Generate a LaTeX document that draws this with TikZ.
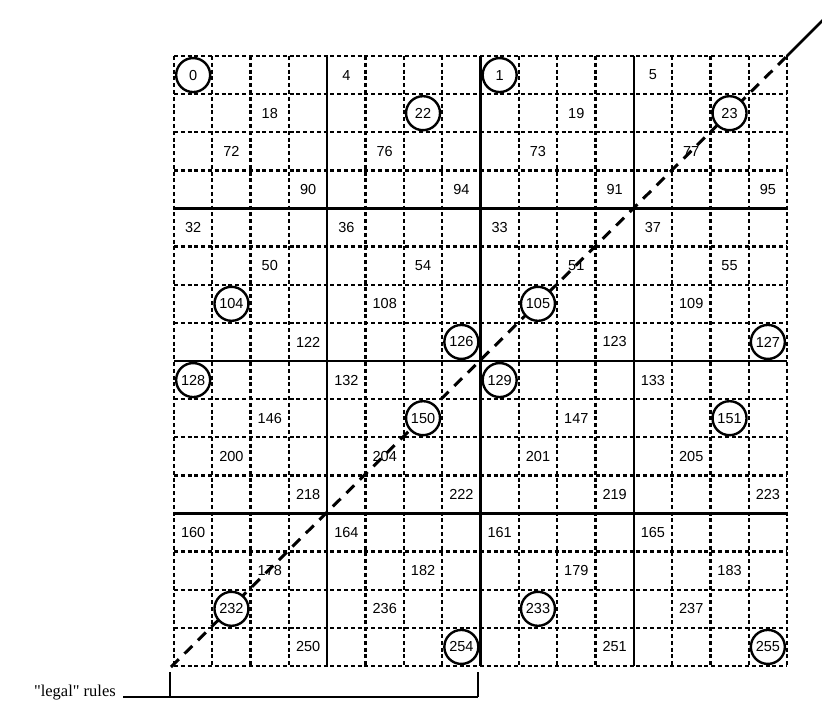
\documentclass[tikz,border=0pt]{standalone}
\usepackage{fontspec}
\setmainfont{Liberation Serif}
\newfontfamily\numfont{Liberation Sans}
\newfontfamily\legalfont{Liberation Serif}[Ligatures=ResetAll]
\begin{document}
\begin{tikzpicture}[x=1pt,y=-1pt,
  gridline/.style={line width=2.3pt,dash pattern=on 4pt off 2.8pt},
  heavyline/.style={line width=2.4pt},
  diagline/.style={line width=3pt,dash pattern=on 11pt off 8pt},
  numlabel/.style={font=\numfont\fontsize{14.5}{14.5}\selectfont,inner sep=0pt},
  ringed/.style={numlabel,circle,draw,fill=white,line width=2.4pt,minimum size=34pt},
  bracketline/.style={line width=1.8pt}]
\useasboundingbox (0,0) rectangle (822,706);
\def\gx{174}\def\gy{56}\def\cw{38.3125}\def\ch{38.125}
% dashed grid
\foreach \i in {0,...,16}{
  \draw[gridline] ({\gx+\i*\cw},\gy) -- ({\gx+\i*\cw},{\gy+16*\ch});
  \draw[gridline] (\gx,{\gy+\i*\ch}) -- ({\gx+16*\cw},{\gy+\i*\ch});
}
% heavy partition lines
\foreach \i in {4,8,12}{
  \draw[heavyline] ({\gx+\i*\cw},\gy) -- ({\gx+\i*\cw},{\gy+16*\ch});
  \draw[heavyline] (\gx,{\gy+\i*\ch}) -- ({\gx+16*\cw},{\gy+\i*\ch});
}
% diagonal
\coordinate (bl) at (171,667);
\coordinate (tr) at ({\gx+16*\cw},\gy);
\coordinate (out) at (823,20);
\draw[diagline] (bl) -- (tr);
\draw[line width=2.6pt] (tr) -- (out);
% plain numbers
\foreach \r/\c/\n in {0/4/4,0/12/5,1/2/18,1/10/19,2/1/72,2/5/76,2/9/73,2/13/77,
  3/3/90,3/7/94,3/11/91,3/15/95,4/0/32,4/4/36,4/8/33,4/12/37,5/2/50,5/6/54,5/10/51,5/14/55,
  6/5/108,6/13/109,7/3/122,7/11/123,8/4/132,8/12/133,9/2/146,9/10/147,
  10/1/200,10/5/204,10/9/201,10/13/205,11/3/218,11/7/222,11/11/219,11/15/223,
  12/0/160,12/4/164,12/8/161,12/12/165,13/2/178,13/6/182,13/10/179,13/14/183,
  14/5/236,14/13/237,15/3/250,15/11/251}{
  \node[numlabel] (n\n) at ({\gx+(\c+0.5)*\cw},{\gy+(\r+0.5)*\ch}) {\n};
}
% circled numbers
\foreach \r/\c/\n in {0/0/0,0/8/1,1/6/22,1/14/23,6/1/104,6/9/105,7/7/126,7/15/127,
  8/0/128,8/8/129,9/6/150,9/14/151,14/1/232,14/9/233,15/7/254,15/15/255}{
  \node[ringed] (n\n) at ({\gx+(\c+0.5)*\cw},{\gy+(\r+0.5)*\ch}) {\n};
}
% legal rules bracket
\coordinate (b1) at (170,672);
\coordinate (b2) at (478,672);
\coordinate (b1d) at (170,697);
\coordinate (b2d) at (478,697);
\node[anchor=east,inner sep=0pt,font=\legalfont\fontsize{16.5}{16.5}\selectfont] (legal) at (116,693) {"legal" rules};
\coordinate (lt) at (123,697);
\draw[bracketline] (b1) -- (b1d);
\draw[bracketline] (b2) -- (b2d);
\draw[bracketline] (lt) -- (b2d);
\end{tikzpicture}
\end{document}
